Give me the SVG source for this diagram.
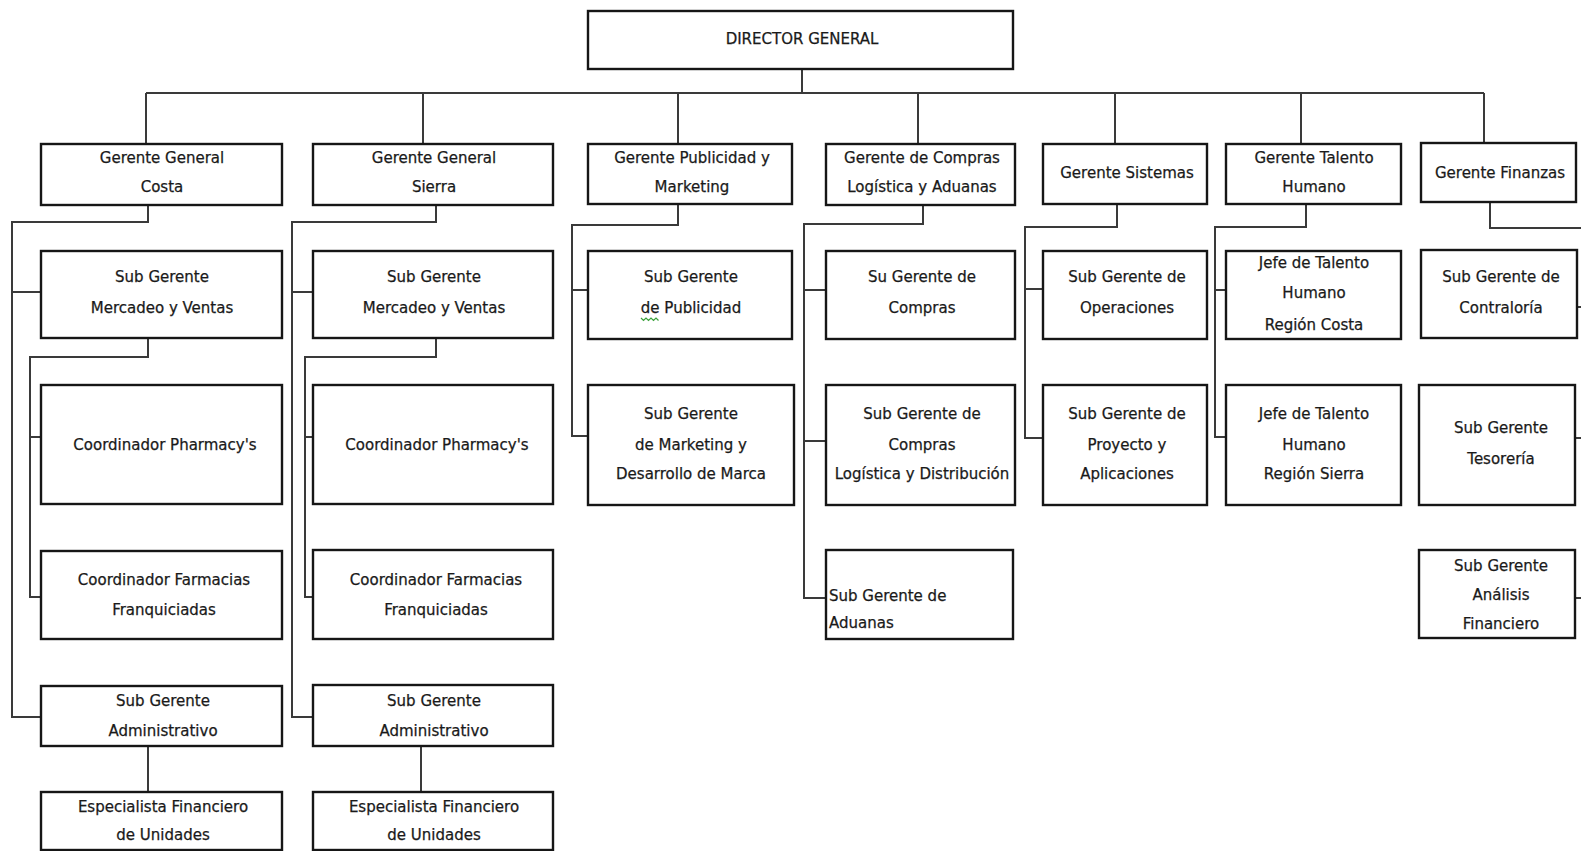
<svg xmlns="http://www.w3.org/2000/svg" width="1581" height="851" viewBox="0 0 1581 851">
  <style>
    .box { fill: #ffffff; stroke: #161616; stroke-width: 2.4; }
    .conn { fill: none; stroke: #3a3a3a; stroke-width: 2; }
    text { font-family: "DejaVu Sans", "Liberation Sans", sans-serif; font-size: 15px; fill: #1a1a1a; stroke: #1a1a1a; stroke-width: 0.25; text-anchor: middle; dominant-baseline: central; }
    .left { text-anchor: start; }
    .squiggle { fill: none; stroke: #3aa13a; stroke-width: 1.2; }
  </style>

  <rect width="1581" height="851" fill="#ffffff"/>

  <!-- reporting lines -->
  <g id="connectors">
    <path class="conn" d="M802 69 V93 M146 93 H1484"/>
    <path class="conn" d="M146 93 V144 M423 93 V144 M678 93 V144 M918 93 V144 M1115 93 V144 M1301 93 V144 M1484 93 V143"/>
    <!-- Costa -->
    <path class="conn" d="M148 205 V222 H12 V717 H41 M12 292 H41"/>
    <path class="conn" d="M148 338 V357 H30 V597 H41 M30 437 H41"/>
    <path class="conn" d="M148 746 V792"/>
    <!-- Sierra -->
    <path class="conn" d="M436 205 V222 H292 V717 H313 M292 292 H313"/>
    <path class="conn" d="M436 338 V357 H305 V597 H313 M305 437 H313"/>
    <path class="conn" d="M421 746 V792"/>
    <!-- Publicidad -->
    <path class="conn" d="M678 204 V225 H572 V436 H588 M572 290 H588"/>
    <!-- Compras -->
    <path class="conn" d="M923 205 V224 H804 V598 H826 M804 290 H826 M804 441 H826"/>
    <!-- Sistemas -->
    <path class="conn" d="M1117 204 V227 H1025 V438 H1043 M1025 289 H1043"/>
    <!-- Talento Humano -->
    <path class="conn" d="M1306 204 V227 H1215 V437 H1226 M1215 290 H1226"/>
    <!-- Finanzas -->
    <path class="conn" d="M1490 202 V228 H1581 M1577 307 H1581 M1575 438 H1581 M1575 598 H1581"/>
  </g>

  <g id="director-general">
    <rect class="box" x="588" y="11" width="425" height="58"/>
    <text x="802" y="39">DIRECTOR GENERAL</text>
  </g>

  <!-- Costa branch -->
  <g id="gerente-costa">
    <rect class="box" x="41" y="144" width="241" height="61"/>
    <text x="162" y="158">Gerente General</text>
    <text x="162" y="187">Costa</text>
  </g>
  <g id="costa-mercadeo">
    <rect class="box" x="41" y="251" width="241" height="87"/>
    <text x="162" y="277">Sub Gerente</text>
    <text x="162" y="308">Mercadeo y Ventas</text>
  </g>
  <g id="costa-pharmacys">
    <rect class="box" x="41" y="385" width="241" height="119"/>
    <text x="165" y="445">Coordinador Pharmacy's</text>
  </g>
  <g id="costa-farmacias">
    <rect class="box" x="41" y="551" width="241" height="88"/>
    <text x="164" y="580">Coordinador Farmacias</text>
    <text x="164" y="610">Franquiciadas</text>
  </g>
  <g id="costa-administrativo">
    <rect class="box" x="41" y="686" width="241" height="60"/>
    <text x="163" y="701">Sub Gerente</text>
    <text x="163" y="731">Administrativo</text>
  </g>
  <g id="costa-especialista">
    <rect class="box" x="41" y="792" width="241" height="58"/>
    <text x="163" y="807">Especialista Financiero</text>
    <text x="163" y="835">de Unidades</text>
  </g>

  <!-- Sierra branch -->
  <g id="gerente-sierra">
    <rect class="box" x="313" y="144" width="240" height="61"/>
    <text x="434" y="158">Gerente General</text>
    <text x="434" y="187">Sierra</text>
  </g>
  <g id="sierra-mercadeo">
    <rect class="box" x="313" y="251" width="240" height="87"/>
    <text x="434" y="277">Sub Gerente</text>
    <text x="434" y="308">Mercadeo y Ventas</text>
  </g>
  <g id="sierra-pharmacys">
    <rect class="box" x="313" y="385" width="240" height="119"/>
    <text x="437" y="445">Coordinador Pharmacy's</text>
  </g>
  <g id="sierra-farmacias">
    <rect class="box" x="313" y="550" width="240" height="89"/>
    <text x="436" y="580">Coordinador Farmacias</text>
    <text x="436" y="610">Franquiciadas</text>
  </g>
  <g id="sierra-administrativo">
    <rect class="box" x="313" y="685" width="240" height="61"/>
    <text x="434" y="701">Sub Gerente</text>
    <text x="434" y="731">Administrativo</text>
  </g>
  <g id="sierra-especialista">
    <rect class="box" x="313" y="792" width="240" height="58"/>
    <text x="434" y="807">Especialista Financiero</text>
    <text x="434" y="835">de Unidades</text>
  </g>

  <!-- Publicidad y Marketing branch -->
  <g id="gerente-publicidad">
    <rect class="box" x="588" y="144" width="204" height="60"/>
    <text x="692" y="158">Gerente Publicidad y</text>
    <text x="692" y="187">Marketing</text>
  </g>
  <g id="sub-publicidad">
    <rect class="box" x="588" y="251" width="204" height="88"/>
    <text x="691" y="277">Sub Gerente</text>
    <text x="691" y="308">de Publicidad</text>
    <path class="squiggle" d="M641 318 l2.5 2.5 l2.5 -2.5 l2.5 2.5 l2.5 -2.5 l2.5 2.5 l2.5 -2.5 l2.5 2.5"/>
  </g>
  <g id="sub-marketing">
    <rect class="box" x="588" y="385" width="206" height="120"/>
    <text x="691" y="414">Sub Gerente</text>
    <text x="691" y="445">de Marketing y</text>
    <text x="691" y="474">Desarrollo de Marca</text>
  </g>

  <!-- Compras, Logística y Aduanas branch -->
  <g id="gerente-compras">
    <rect class="box" x="826" y="144" width="189" height="61"/>
    <text x="922" y="158">Gerente de Compras</text>
    <text x="922" y="187">Logística y Aduanas</text>
  </g>
  <g id="sub-compras">
    <rect class="box" x="826" y="251" width="189" height="88"/>
    <text x="922" y="277">Su Gerente de</text>
    <text x="922" y="308">Compras</text>
  </g>
  <g id="sub-compras-logistica">
    <rect class="box" x="826" y="385" width="189" height="120"/>
    <text x="922" y="414">Sub Gerente de</text>
    <text x="922" y="445">Compras</text>
    <text x="922" y="474">Logística y Distribución</text>
  </g>
  <g id="sub-aduanas">
    <rect class="box" x="826" y="550" width="187" height="89"/>
    <text class="left" x="829" y="596">Sub Gerente de</text>
    <text class="left" x="829" y="623">Aduanas</text>
  </g>

  <!-- Sistemas branch -->
  <g id="gerente-sistemas">
    <rect class="box" x="1043" y="144" width="164" height="60"/>
    <text x="1127" y="173">Gerente Sistemas</text>
  </g>
  <g id="sub-operaciones">
    <rect class="box" x="1043" y="251" width="164" height="88"/>
    <text x="1127" y="277">Sub Gerente de</text>
    <text x="1127" y="308">Operaciones</text>
  </g>
  <g id="sub-proyectos">
    <rect class="box" x="1043" y="385" width="164" height="120"/>
    <text x="1127" y="414">Sub Gerente de</text>
    <text x="1127" y="445">Proyecto y</text>
    <text x="1127" y="474">Aplicaciones</text>
  </g>

  <!-- Talento Humano branch -->
  <g id="gerente-talento">
    <rect class="box" x="1226" y="144" width="175" height="60"/>
    <text x="1314" y="158">Gerente Talento</text>
    <text x="1314" y="187">Humano</text>
  </g>
  <g id="jefe-talento-costa">
    <rect class="box" x="1226" y="251" width="175" height="88"/>
    <text x="1314" y="263">Jefe de Talento</text>
    <text x="1314" y="293">Humano</text>
    <text x="1314" y="325">Región Costa</text>
  </g>
  <g id="jefe-talento-sierra">
    <rect class="box" x="1226" y="385" width="175" height="120"/>
    <text x="1314" y="414">Jefe de Talento</text>
    <text x="1314" y="445">Humano</text>
    <text x="1314" y="474">Región Sierra</text>
  </g>

  <!-- Finanzas branch -->
  <g id="gerente-finanzas">
    <rect class="box" x="1421" y="143" width="155" height="59"/>
    <text x="1500" y="173">Gerente Finanzas</text>
  </g>
  <g id="sub-contraloria">
    <rect class="box" x="1421" y="250" width="156" height="88"/>
    <text x="1501" y="277">Sub Gerente de</text>
    <text x="1501" y="308">Contraloría</text>
  </g>
  <g id="sub-tesoreria">
    <rect class="box" x="1419" y="385" width="156" height="120"/>
    <text x="1501" y="428">Sub Gerente</text>
    <text x="1501" y="459">Tesorería</text>
  </g>
  <g id="sub-analisis">
    <rect class="box" x="1419" y="550" width="156" height="88"/>
    <text x="1501" y="566">Sub Gerente</text>
    <text x="1501" y="595">Análisis</text>
    <text x="1501" y="624">Financiero</text>
  </g>
</svg>
